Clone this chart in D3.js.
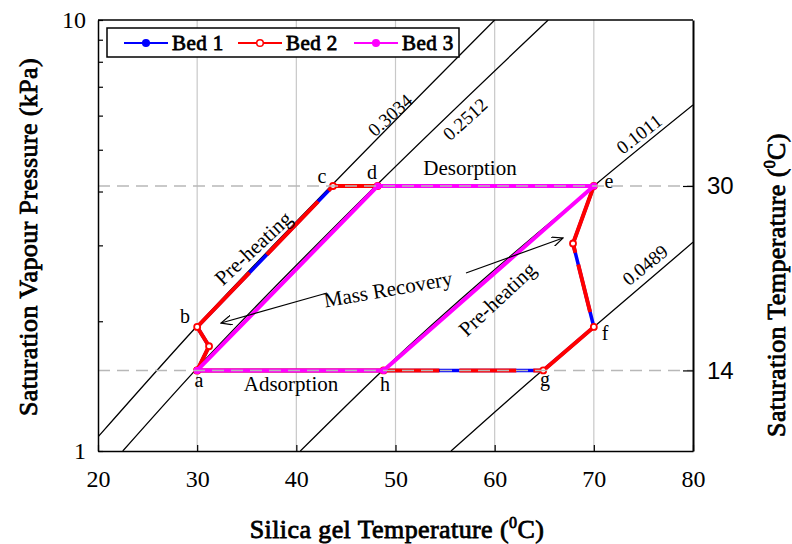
<!DOCTYPE html>
<html>
<head>
<meta charset="utf-8">
<script src="https://cdn.jsdelivr.net/npm/d3@7"></script>
<style>
  body { margin: 0; background: #fff; }
  text { font-family: "Liberation Serif", "Times New Roman", serif; }
  .bold { stroke: #000; stroke-width: 0.8px; letter-spacing: 0.4px; }
</style>
</head>
<body>
<svg width="792" height="544"></svg>
<script>
// isosteres: uptake label, and points (T in C, P in kPa)
var isoLabels = ["0.3034", "0.2512", "0.1011", "0.0489"];
var isoT = [[20, 29.9, 43.5, 60.0], [22.5, 29.8, 48.0, 65.4], [40.4, 48.7, 70, 80], [55.6, 64.8, 70, 80]];
var isoP = [[1.078, 1.94, 4.12, 10], [1, 1.538, 4.12, 10], [1, 1.538, 4.12, 6.35], [1, 1.538, 1.94, 3.05]];

// cycle a -> (mass recovery) -> b -> c -> d -> e -> (mass recovery) -> f -> g -> h -> a
var bed1T = [30, 31.2, 30, 43.7, 48.2, 70, 67.9, 70, 64.9, 48.8, 30];
var bed1P = [1.538, 1.75, 1.94, 4.12, 4.12, 4.12, 3.03, 1.94, 1.538, 1.538, 1.538];
var bed2T = [30, 31.2, 30, 43.7, 48.2, 70, 67.9, 70, 64.9, 48.8, 30];
var bed2P = [1.538, 1.75, 1.94, 4.12, 4.12, 4.12, 3.03, 1.94, 1.538, 1.538, 1.538];
var bed3T = [30, 48.2, 70, 48.8, 30];
var bed3P = [1.538, 4.12, 4.12, 1.538, 1.538];

// right axis: saturation temperature ticks
var satTemps = [14, 30];
var satPressures = [1.538, 4.12];

var xTicks = [20, 30, 40, 50, 60, 70, 80];
var yTicks = [1, 2, 3, 4, 5, 6, 7, 8, 9, 10];

var svg = d3.select("svg"),
    mLeft = 98, mRight = 693, mTop = 20, mBottom = 451;

var x = d3.scaleLinear().domain([20, 80]).range([mLeft, mRight]);
var y = d3.scaleLog().domain([1, 10]).range([mBottom, mTop]);

function pts(ts, ps) { return ts.map(function(t, i) { return [t, ps[i]]; }); }

var line = d3.line()
    .x(function(d) { return x(d[0]); })
    .y(function(d) { return y(d[1]); });
var curve = d3.line()
    .x(function(d) { return x(d[0]); })
    .y(function(d) { return y(d[1]); })
    .curve(d3.curveMonotoneX);

svg.append("clipPath").attr("id", "plot")
  .append("rect").attr("x", mLeft).attr("y", mTop).attr("width", mRight - mLeft).attr("height", mBottom - mTop);

// vertical grid
svg.append("g").selectAll("line")
  .data([30, 40, 50, 60, 70])
  .enter().append("line")
    .attr("x1", function(d) { return x(d); }).attr("x2", function(d) { return x(d); })
    .attr("y1", mTop).attr("y2", mBottom)
    .attr("stroke", "#c8c8c8").attr("stroke-width", 1.2);

// isosteres
var iso = svg.append("g").attr("clip-path", "url(#plot)");
isoLabels.forEach(function(lab, i) {
  iso.append("path")
      .attr("d", curve(pts(isoT[i], isoP[i])))
      .attr("fill", "none").attr("stroke", "#000").attr("stroke-width", 1.3);
});

// Bed 1 (mostly under Bed 2)
svg.append("path")
    .attr("d", line(pts(bed1T, bed1P)))
    .attr("fill", "none").attr("stroke", "#0000ff").attr("stroke-width", 3.5)
    .attr("stroke-linejoin", "round");

svg.append("path")
    .attr("d", line(pts(bed2T, bed2P)))
    .attr("fill", "none").attr("stroke", "#ff0000").attr("stroke-width", 4)
    .attr("stroke-linejoin", "round")
    .attr("stroke-dasharray", "125,25,74,15,338,12,49,12,80,17,57,20,2000");

svg.append("g").selectAll("circle")
  .data(pts(bed2T, bed2P))
  .enter().append("circle")
    .attr("cx", function(d) { return x(d[0]); })
    .attr("cy", function(d) { return y(d[1]); })
    .attr("r", 3)
    .attr("fill", "#fff").attr("stroke", "#ff0000").attr("stroke-width", 1.8);

svg.append("path")
    .attr("d", line(pts(bed3T, bed3P)))
    .attr("fill", "none").attr("stroke", "#ff00ff").attr("stroke-width", 4)
    .attr("stroke-linejoin", "round");

svg.append("g").selectAll("circle")
  .data(pts(bed3T, bed3P))
  .enter().append("circle")
    .attr("cx", function(d) { return x(d[0]); })
    .attr("cy", function(d) { return y(d[1]); })
    .attr("r", 3.5)
    .attr("fill", "#ff00ff");

// dashed saturation lines
svg.append("g").selectAll("line")
  .data(satPressures)
  .enter().append("line")
    .attr("x1", mLeft).attr("x2", mRight)
    .attr("y1", function(d) { return y(d); }).attr("y2", function(d) { return y(d); })
    .attr("stroke", "#b8b8b8").attr("stroke-width", 1.5)
    .attr("stroke-dasharray", "12,7");

// axes
var xAxis = svg.append("g").attr("transform", "translate(0," + mBottom + ")")
    .call(d3.axisBottom(x).tickValues(xTicks).tickSizeInner(-6).tickSizeOuter(0).tickPadding(19));
var yAxis = svg.append("g").attr("transform", "translate(" + mLeft + ",0)")
    .call(d3.axisLeft(y).tickValues(yTicks).tickSizeInner(-5).tickSizeOuter(0).tickPadding(12)
      .tickFormat(function(d) { return (d === 1 || d === 10) ? d : ""; }));
var rAxis = svg.append("g").attr("transform", "translate(" + mRight + ",0)")
    .call(d3.axisRight(y).tickValues(satPressures).tickSizeInner(-10).tickSizeOuter(0).tickPadding(14)
      .tickFormat(function(d, i) { return satTemps[i]; }));
[xAxis, yAxis].forEach(function(a) {
  a.attr("font-family", null);
  a.selectAll("text").attr("font-size", 24).attr("fill", "#000");
});
rAxis.attr("font-family", null);
rAxis.selectAll("text").attr("font-size", 24).attr("fill", "#000")
  .style("font-family", "'Liberation Sans', Arial, sans-serif");
svg.selectAll(".domain").attr("stroke", "#000").attr("stroke-width", 1.5);
svg.selectAll(".tick line").attr("stroke", "#000").attr("stroke-width", 1.2);
rAxis.select(".domain").attr("stroke-width", 2);
svg.append("line").attr("x1", mLeft).attr("x2", mRight).attr("y1", mTop).attr("y2", mTop)
    .attr("stroke", "#000").attr("stroke-width", 1.5);

// point letters
var letters = [
  ["a", 199, 387], ["b", 185, 323], ["c", 322, 183], ["d", 372, 179],
  ["e", 609, 188], ["f", 605, 340], ["g", 545, 386], ["h", 385, 391]
];
svg.append("g").selectAll("text")
  .data(letters)
  .enter().append("text")
    .attr("x", function(d) { return d[1]; }).attr("y", function(d) { return d[2]; })
    .attr("text-anchor", "middle").attr("font-size", 20)
    .text(function(d) { return d[0]; });

// isostere labels
var isoLabelPos = [[390, 115, -42], [465, 119, -42], [639, 134, -38], [645, 265, -39]];
isoLabels.forEach(function(lab, i) {
  var p = isoLabelPos[i];
  svg.append("text")
      .attr("transform", "translate(" + p[0] + "," + p[1] + ") rotate(" + p[2] + ")")
      .attr("text-anchor", "middle").attr("dy", "0.35em").attr("font-size", 19)
      .text(lab);
});

// process annotations
var notes = [
  ["Desorption", 470, 175, 0],
  ["Adsorption", 291, 391, 0],
  ["Pre-heating", 253, 248, -43],
  ["Pre-heating", 497, 299, -43],
  ["Mass Recovery", 388, 289, -10]
];
notes.forEach(function(n) {
  var t = svg.append("text")
      .attr("transform", "translate(" + n[1] + "," + n[2] + ") rotate(" + n[3] + ")")
      .attr("text-anchor", "middle").attr("font-size", 21)
      .text(n[0]);
  if (n[3] !== 0) t.attr("dy", "0.35em");
});

svg.append("defs").append("marker")
    .attr("id", "arrow").attr("viewBox", "0 0 12 10").attr("refX", 11).attr("refY", 5)
    .attr("markerWidth", 12).attr("markerHeight", 10).attr("markerUnits", "userSpaceOnUse")
    .attr("orient", "auto")
  .append("path").attr("d", "M0,0 L11,5 L0,10").attr("fill", "none").attr("stroke", "#000").attr("stroke-width", 1.2);

[[327, 293, 221, 323], [466, 273, 563, 238]].forEach(function(a) {
  svg.append("line")
      .attr("x1", a[0]).attr("y1", a[1]).attr("x2", a[2]).attr("y2", a[3])
      .attr("stroke", "#000").attr("stroke-width", 1.2)
      .attr("marker-end", "url(#arrow)");
});

// axis titles (stroked regular serif stands in for bold Times)
svg.append("text")
    .attr("class", "bold")
    .attr("transform", "translate(37,237) rotate(-90)")
    .attr("text-anchor", "middle").attr("font-size", 26)
    .text("Saturation Vapour Pressure (kPa)");

var xt = svg.append("text")
    .attr("class", "bold")
    .attr("x", 397).attr("y", 538)
    .attr("text-anchor", "middle").attr("font-size", 26);
xt.append("tspan").text("Silica gel Temperature (");
xt.append("tspan").attr("font-size", 16).attr("dy", -10).text("0");
xt.append("tspan").attr("dy", 10).text("C)");

var rt = svg.append("text")
    .attr("class", "bold")
    .attr("transform", "translate(785,285) rotate(-90)")
    .attr("text-anchor", "middle").attr("font-size", 26);
rt.append("tspan").text("Saturation Temperature (");
rt.append("tspan").attr("font-size", 16).attr("dy", -10).text("0");
rt.append("tspan").attr("dy", 10).text("C)");

// legend
var lg = svg.append("g");
lg.append("rect").attr("x", 107).attr("y", 28).attr("width", 352).attr("height", 29)
    .attr("fill", "#fff").attr("stroke", "#000").attr("stroke-width", 1.5);
var legend = [
  ["Bed 1", "#0000ff", 124, true],
  ["Bed 2", "#ff0000", 238, false],
  ["Bed 3", "#ff00ff", 354, true]
];
legend.forEach(function(l) {
  lg.append("line").attr("x1", l[2]).attr("x2", l[2] + 44).attr("y1", 43).attr("y2", 43)
      .attr("stroke", l[1]).attr("stroke-width", 1.8);
  lg.append("circle").attr("cx", l[2] + 22).attr("cy", 43).attr("r", 3.3)
      .attr("fill", l[3] ? l[1] : "#fff").attr("stroke", l[1]).attr("stroke-width", 1.5);
  lg.append("text").attr("class", "bold").attr("x", l[2] + 48).attr("y", 50).attr("font-size", 21)
      .text(l[0]);
});
</script>
</body>
</html>
